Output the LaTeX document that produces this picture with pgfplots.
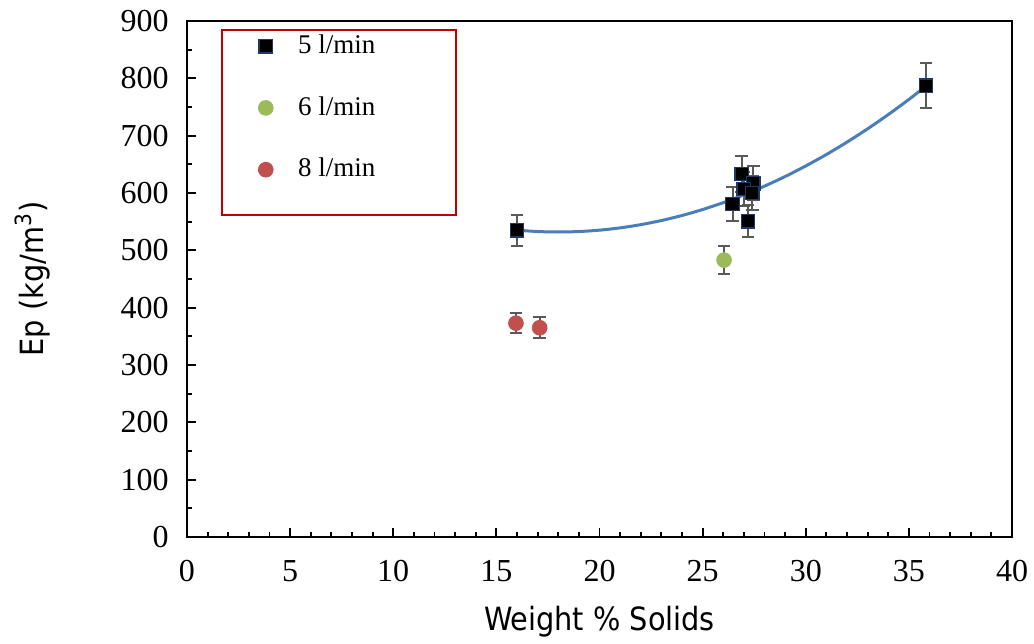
\documentclass[border=0pt]{standalone}
\usepackage{fontspec}
\usepackage{pgfplots}
\pgfplotsset{compat=1.18}
\setmainfont{Liberation Serif}
\newfontfamily\labelfont{DejaVu Sans Condensed}
\definecolor{sqedge}{HTML}{1F3864}
\definecolor{greenpt}{HTML}{9BBB59}
\definecolor{redpt}{HTML}{C0504D}
\definecolor{trend}{HTML}{4A7EBB}
\definecolor{errc}{HTML}{595959}
\definecolor{legred}{HTML}{C00000}

\pgfplotstableread{
x y e
16.0 535 27
26.9 633 31
27.45 617 30
27.0 607 30
27.4 600 30
26.45 581 29
27.2 551 28
35.83 787 39
}\fivelmin
\pgfplotstableread{
x y e
26.04 483 24
}\sixlmin
\pgfplotstableread{
x y e
15.95 373 18
17.1 365 18
}\eightlmin

\begin{document}
\begin{tikzpicture}
\useasboundingbox (-93.5pt,-53pt) rectangle (423.5pt,268.5pt);
\begin{axis}[
 at={(0,0)}, anchor=south west,
 scale only axis, width=412.5pt, height=258pt,
 xmin=0, xmax=40, ymin=0, ymax=900,
 xtick distance=5, ytick distance=100,
 minor x tick num=4, minor y tick num=1,
 tick pos=left, tick align=inside,
 major tick length=4.5pt, minor tick length=2.5pt,
 axis line style={line width=1pt},
 every tick/.style={black, line width=0.9pt},
 /pgf/number format/assume math mode=true,
 ticklabel style={font=\fontsize{16}{18}\selectfont},
 xticklabel style={yshift=-8pt},
 yticklabel style={xshift=-5.7pt},
 xlabel={Weight \% Solids},
 ylabel={Ep (kg/m\textsuperscript{3})},
 label style={font=\labelfont\fontsize{16}{18}\selectfont},
 xlabel style={at={(axis description cs:0.5,-0.165)}, anchor=center},
 ylabel style={at={(axis description cs:-0.187,0.5)}, anchor=center},
 legend style={at={(rel axis cs:0.0424,0.9826)}, anchor=north west,
   draw=none, fill=none, inner xsep=18pt, inner ysep=2.2pt, row sep=19.6pt,
   font=\fontsize{13.5}{15}\selectfont,
   nodes={inner sep=0pt, text height=9.3pt, text depth=2pt}},
 legend cell align=left,
 /tikz/every odd column/.append style={column sep=12.5pt},
 error bars/error bar style={errc, line width=1pt},
 error bars/error mark options={errc, line width=1pt, mark size=3.2pt, rotate=90},
]
\addplot[only marks, mark=square*, mark size=3.4pt,
  mark options={fill=black, draw=sqedge, line width=0.6pt},
  error bars/.cd, y dir=both, y explicit]
  table[x=x, y=y, y error=e] {\fivelmin};
\addlegendentry{5 l/min}
\addplot[only marks, mark=*, mark size=3.7pt,
  mark options={fill=greenpt, draw=greenpt},
  error bars/.cd, y dir=both, y explicit]
  table[x=x, y=y, y error=e] {\sixlmin};
\addlegendentry{6 l/min}
\addplot[only marks, mark=*, mark size=3.7pt,
  mark options={fill=redpt, draw=redpt},
  error bars/.cd, y dir=both, y explicit]
  table[x=x, y=y, y error=e] {\eightlmin};
\addlegendentry{8 l/min}
\addplot[forget plot, no marks, smooth, trend, line width=1.5pt] coordinates {
 (16,535.2) (17,532.8) (18,532) (19,532.8) (20,535.2) (21,539.2) (22,544.8)
 (23,552) (24,560.8) (25,571.2) (26,583.2) (27,596.8) (28,612) (29,628.8)
 (30,647.2) (31,667.2) (32,688.8) (33,712) (34,736.8) (35,763.2) (35.83,786.6)
};
\draw[legred, line width=1pt] (rel axis cs:0.0424,0.624) rectangle (rel axis cs:0.326,0.9826);
\end{axis}
\end{tikzpicture}
\end{document}
